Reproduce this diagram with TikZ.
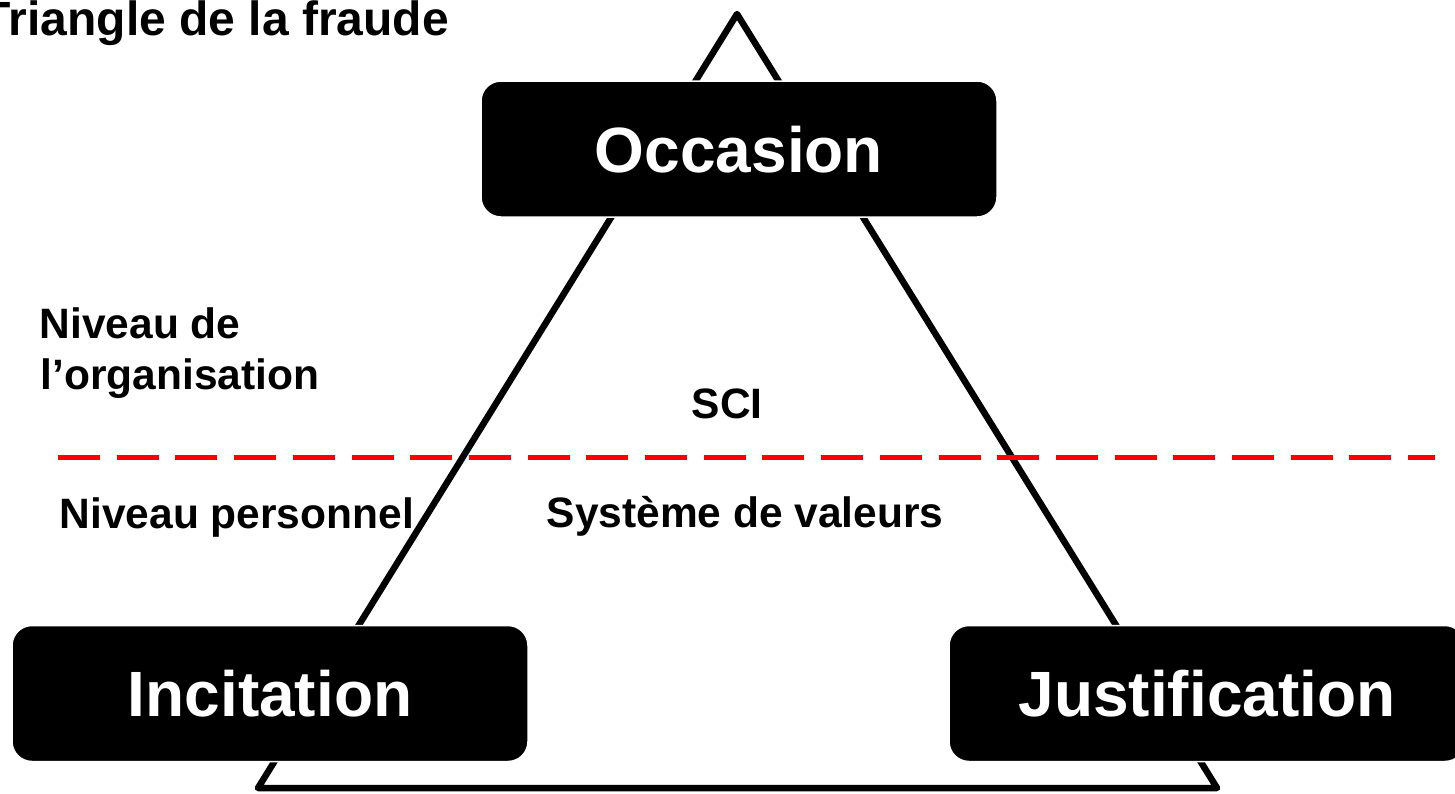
\documentclass[tikz,border=0pt]{standalone}
\usepackage{fontspec}
\setmainfont{Liberation Sans}
\begin{document}
\begin{tikzpicture}[x=1pt,y=-1pt,
  box/.style={rectangle, rounded corners=20pt, fill=black, draw=white, line width=1.5pt,
    minimum width=516pt, minimum height=136pt, text=white,
    font=\fontsize{64}{64}\selectfont\bfseries, text height=46pt, text depth=0pt, inner sep=0pt},
  lbl/.style={font=\fontsize{42.5}{42.5}\selectfont\bfseries, inner sep=0pt, anchor=base west},
  tri/.style={line width=6.5pt, line join=round},
  sep/.style={draw=red, line width=5pt, dash pattern=on 42pt off 16.7pt}]
\useasboundingbox (0,0) rectangle (1455,793);
\coordinate (A) at (737,14);
\coordinate (B) at (258,788);
\coordinate (C) at (1217,788);
\draw[tri] (A) -- (B) -- (C) -- cycle;
\coordinate (L1) at (58,457);
\coordinate (L2) at (1435,457);
\draw[sep] (L1) -- (L2);
\node[box] (occ) at (739,149) {Occasion};
\node[box] (inc) at (270,693.5) {Incitation};
\node[box] (jus) at (1207,693.5) {Justification};
\node[lbl, font=\fontsize{48}{48}\selectfont\bfseries, anchor=base east] (title) at (449,35) {Triangle de la fraude};
\node[lbl] (niv1) at (39.5,338) {Niveau de};
\node[lbl] (niv2) at (40.5,389) {l’organisation};
\node[lbl] (niv3) at (59.5,528) {Niveau personnel};
\node[lbl] (sci) at (691.5,418) {SCI};
\node[lbl] (sys) at (546.5,527) {Système de valeurs};
\end{tikzpicture}
\end{document}
